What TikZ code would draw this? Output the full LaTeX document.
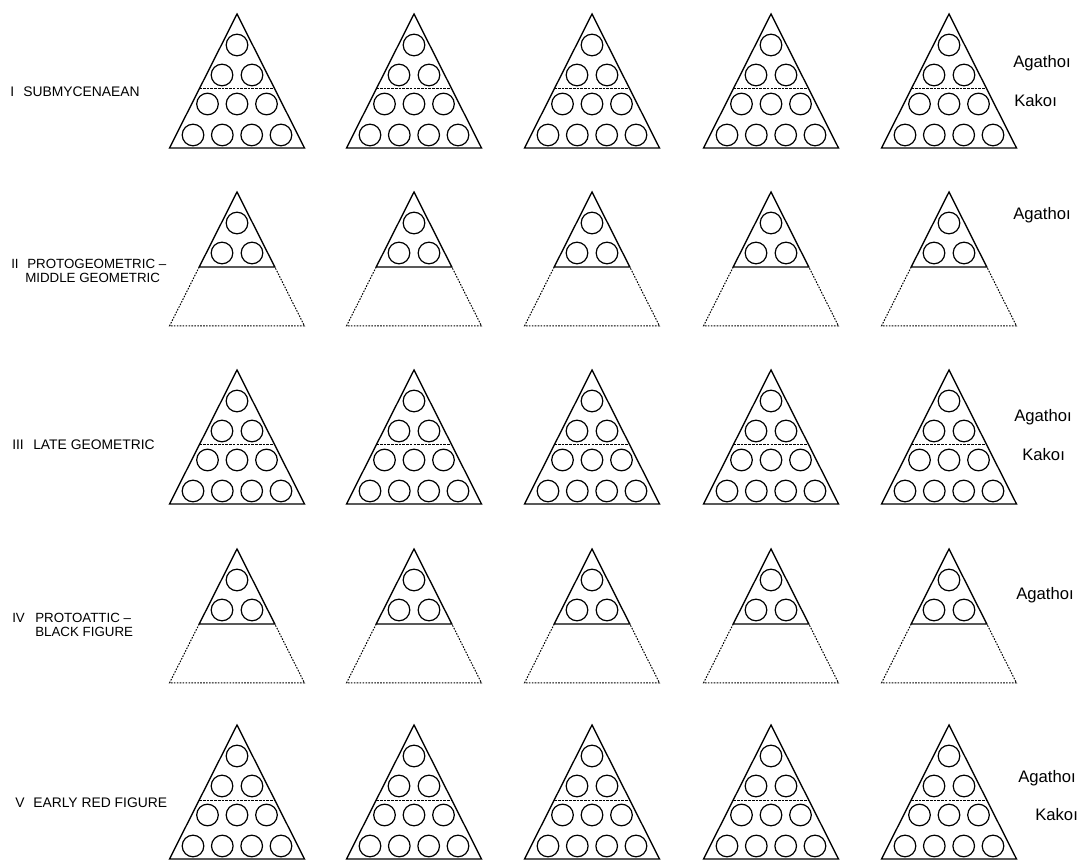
\documentclass[tikz,border=0pt]{standalone}
\usepackage{fontspec}
\setmainfont{Liberation Sans}
\tikzset{
  tri/.style={line width=1pt, line join=miter},
  dotline/.style={line width=0.75pt, dash pattern=on 1.2pt off 1pt},
  divline/.style={line width=0.75pt, dash pattern=on 2pt off 0.8pt},
  ball/.style={line width=0.9pt},
  period/.style={font=\fontsize{10.4}{11}\selectfont, anchor=base west, inner sep=0pt},
  period2/.style={font=\fontsize{10}{12}\selectfont, anchor=base west, inner sep=0pt},
  side/.style={font=\fontsize{12.5}{14}\selectfont, anchor=base west, inner sep=0pt}
}
\newcommand\fulltri[2]{%
  \begin{scope}[shift={(#1,#2)}]
    \draw[tri] (0,0) -- (67.5,134) -- (-67.5,134) -- cycle;
    \draw[divline] (-37.8,75) -- (37.8,75);
    \foreach \p in {(0,31),(-15,61),(15,61),(-29.5,90),(0,90),(29.5,90),(-44,121),(-14.7,121),(14.7,121),(44,121)}
      \draw[ball] \p circle [radius=8.1pt];
  \end{scope}}
\newcommand\halftri[2]{%
  \begin{scope}[shift={(#1,#2)}]
    \draw[tri] (-37.8,75) -- (0,0) -- (37.8,75) -- cycle;
    \draw[dotline] (-37.8,75) -- (-67.5,134) -- (67.5,134) -- (37.8,75);
    \foreach \p in {(0,31),(-15,61),(15,61)}
      \draw[ball] \p circle [radius=8.1pt];
  \end{scope}}
\begin{document}
\begin{tikzpicture}[x=0.75pt,y=-0.75pt]
  \useasboundingbox (0,0) rectangle (1086,862);
  % triangles
  \foreach \cx in {237,414,592,771,949}{
    \fulltri{\cx}{14}
    \halftri{\cx}{192}
    \fulltri{\cx}{370}
    \halftri{\cx}{549}
    \fulltri{\cx}{725}
  }
  % left labels
  \node[period] (n1) at (10,97) {I};
  \node[period] (t1) at (23,97) {SUBMYCENAEAN};
  \node[period2] (n2) at (11,269) {II};
  \node[period2] (t2a) at (27,269) {PROTOGEOMETRIC –};
  \node[period2] (t2b) at (25,283) {MIDDLE GEOMETRIC};
  \node[period] (n3) at (12,450) {III};
  \node[period] (t3) at (33,450) {LATE GEOMETRIC};
  \node[period2] (n4) at (12,623) {IV};
  \node[period2] (t4a) at (35,623) {PROTOATTIC –};
  \node[period2] (t4b) at (35,637) {BLACK FIGURE};
  \node[period] (n5) at (15,807) {V};
  \node[period] (t5) at (33,807) {EARLY RED FIGURE};
  % right labels
  \node[side] (a1) at (1013,68) {Agathoı};
  \node[side] (k1) at (1014,107) {Kakoı};
  \node[side] (a2) at (1013,220) {Agathoı};
  \node[side] (a3) at (1014,422) {Agathoı};
  \node[side] (k3) at (1022,461) {Kakoı};
  \node[side] (a4) at (1016,600) {Agathoı};
  \node[side] (a5) at (1018,782) {Agathoı};
  \node[side] (k5) at (1035,820) {Kakoı};
\end{tikzpicture}
\end{document}
